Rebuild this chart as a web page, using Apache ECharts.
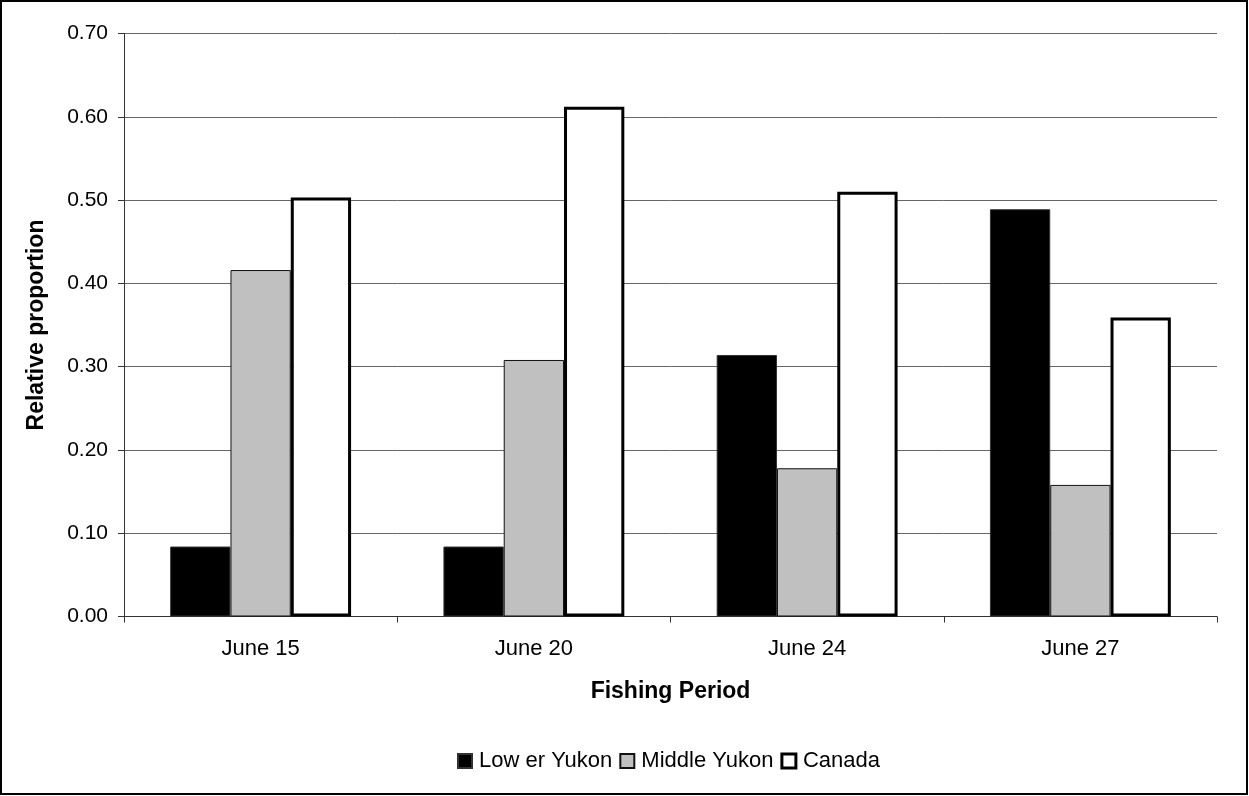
<!DOCTYPE html>
<html>
<head>
<meta charset="utf-8">
<script src="https://cdn.jsdelivr.net/npm/echarts@6/dist/echarts.min.js"></script>
<style>
  html, body { margin: 0; padding: 0; background: #fff; }
  #chart { width: 1249px; height: 796px; }
</style>
</head>
<body>
<div id="chart"></div>
<script>
// Fishing periods and relative proportion by stock of origin
const periods = ['June 15', 'June 20', 'June 24', 'June 27'];
const lowerYukon = [0.084, 0.084, 0.314, 0.489];
const middleYukon = [0.416, 0.308, 0.178, 0.158];
const canada = [0.503, 0.612, 0.510, 0.359];
const yTicks = { min: 0, max: 0.7, interval: 0.1 };

const FONT = '"Liberation Sans", Arial, sans-serif';

const chart = echarts.init(document.getElementById('chart'), null, { renderer: 'canvas' });

chart.setOption({
  backgroundColor: '#ffffff',
  animation: false,
  textStyle: { fontFamily: FONT, color: '#000' },
  grid: { left: 124, right: 32, top: 33.5, bottom: 179.5, containLabel: false },
  legend: {
    top: 745,
    left: 452,
    icon: 'rect',
    itemWidth: 14,
    itemHeight: 14,
    itemGap: 7,
    textStyle: { fontFamily: FONT, fontSize: 22, color: '#000', padding: [0, 0, 0, 2] },
    data: [
      { name: 'Low er Yukon' },
      { name: 'Middle Yukon' },
      { name: 'Canada', itemStyle: { color: '#ffffff', borderColor: '#000', borderWidth: 3 } }
    ]
  },
  xAxis: {
    type: 'category',
    data: periods,
    name: 'Fishing Period',
    nameLocation: 'middle',
    nameGap: 64,
    nameTextStyle: { fontFamily: FONT, fontSize: 23, fontWeight: 'bold', color: '#000' },
    axisLine: { lineStyle: { color: '#333', width: 1 } },
    axisTick: { show: true, length: 6, lineStyle: { color: '#333' } },
    axisLabel: { fontFamily: FONT, fontSize: 22, color: '#000', margin: 21 },
    splitLine: { show: false }
  },
  yAxis: {
    type: 'value',
    min: yTicks.min,
    max: yTicks.max,
    interval: yTicks.interval,
    name: 'Relative proportion',
    nameLocation: 'middle',
    nameGap: 76,
    nameRotate: 90,
    nameTextStyle: { fontFamily: FONT, fontSize: 23, fontWeight: 'bold', color: '#000' },
    axisLine: { show: true, lineStyle: { color: '#333', width: 1 } },
    axisTick: { show: true, length: 6, lineStyle: { color: '#333' } },
    axisLabel: {
      fontFamily: FONT, fontSize: 21, color: '#000', margin: 16,
      formatter: v => v.toFixed(2)
    },
    splitLine: { show: true, lineStyle: { color: '#666', width: 1 } }
  },
  series: [
    {
      name: 'Low er Yukon',
      type: 'bar',
      data: lowerYukon,
      barGap: '0%',
      barCategoryGap: '33.8%',
      itemStyle: { color: '#000000', borderColor: '#333', borderWidth: 1 }
    },
    {
      name: 'Middle Yukon',
      type: 'bar',
      data: middleYukon,
      barGap: '0%',
      barCategoryGap: '33.8%',
      itemStyle: { color: '#c0c0c0', borderColor: '#111', borderWidth: 1 }
    },
    {
      name: 'Canada',
      type: 'bar',
      data: canada,
      barGap: '0%',
      barCategoryGap: '33.8%',
      itemStyle: { color: '#ffffff', borderColor: '#000', borderWidth: 3 }
    }
  ],
  graphic: [
    {
      type: 'rect',
      silent: true,
      z: 100,
      shape: { x: 1, y: 1, width: 1246, height: 793 },
      style: { fill: null, stroke: '#000', lineWidth: 2 }
    }
  ]
});
</script>
</body>
</html>
